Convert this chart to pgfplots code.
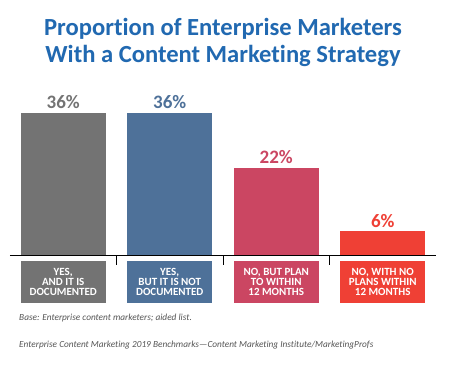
\documentclass[border=0pt]{standalone}
\usepackage{pgfplots}
\pgfplotsset{compat=1.18}
\usepackage{fontspec}
\setmainfont{Carlito}[Ligatures=NoCommon]
\definecolor{cgray}{HTML}{737373}
\definecolor{cblue}{HTML}{4E7199}
\definecolor{cpink}{HTML}{CB4662}
\definecolor{cred}{HTML}{EF4035}
\definecolor{ctitle}{HTML}{2169B1}
\definecolor{cfoot}{HTML}{555555}
\begin{document}
\begin{tikzpicture}
\fill[white] (0pt,0pt) rectangle (459pt,-366pt);
\node[anchor=base, text=ctitle, font=\bfseries\fontsize{24.6}{24}\selectfont, inner sep=0] at (223pt,-36pt) {Proportion of Enterprise Marketers};
\node[anchor=base, text=ctitle, font=\bfseries\fontsize{24.6}{24}\selectfont, inner sep=0] at (223pt,-63pt) {With a Content Marketing Strategy};
\begin{axis}[at={(10pt,-255pt)}, anchor=south west, scale only axis,
  width=426pt, height=157.6pt,
  xmin=-0.5, xmax=3.5, ymin=0, ymax=40,
  axis x line=bottom, axis y line=none,
  axis line style={-, black, line width=0.8pt},
  xtick={0.5,1.5,2.5}, xticklabels={}, xtick align=inside,
  major tick length=10pt, tick style={black, line width=0.7pt},
  ybar, bar width=85pt, bar shift=0pt,
  /pgf/number format/assume math mode=true,
  nodes near coords={\pgfmathprintnumber{\pgfplotspointmeta}\%},
  nodes near coords style={font=\bfseries\fontsize{19}{19}\selectfont, inner sep=4pt},
  clip=false]
\addplot[fill=cgray, draw=none, nodes near coords style={text=cgray}] coordinates {(0,36)};
\addplot[fill=cblue, draw=none, nodes near coords style={text=cblue}] coordinates {(1,36)};
\addplot[fill=cpink, draw=none, nodes near coords style={text=cpink}] coordinates {(2,22)};
\addplot[fill=cred, draw=none, nodes near coords style={text=cred}] coordinates {(3,6)};
\tikzset{lab/.style={text=white, minimum width=85pt, minimum height=42pt, anchor=north, align=center, font=\bfseries\fontsize{11}{10.2}\selectfont, inner sep=0}}
\node[lab, fill=cgray] at ([yshift=-6pt]axis cs:0,0) {YES,\\AND IT IS\\DOCUMENTED};
\node[lab, fill=cblue] at ([yshift=-6pt]axis cs:1,0) {YES,\\BUT IT IS NOT\\DOCUMENTED};
\node[lab, fill=cpink] at ([yshift=-6pt]axis cs:2,0) {NO, BUT PLAN\\TO WITHIN\\12 MONTHS};
\node[lab, fill=cred] at ([yshift=-6pt]axis cs:3,0) {NO, WITH NO\\PLANS WITHIN\\12 MONTHS};
\end{axis}
\node[anchor=base west, font=\itshape\fontsize{9.3}{9.3}\selectfont, text=cfoot, inner sep=0] at (19pt,-321pt) {Base: Enterprise content marketers; aided list.};
\node[anchor=base west, font=\itshape\fontsize{9.3}{9.3}\selectfont, text=cfoot, inner sep=0] at (19pt,-348pt) {Enterprise Content Marketing 2019 Benchmarks—Content Marketing Institute/MarketingProfs};
\end{tikzpicture}
\end{document}
